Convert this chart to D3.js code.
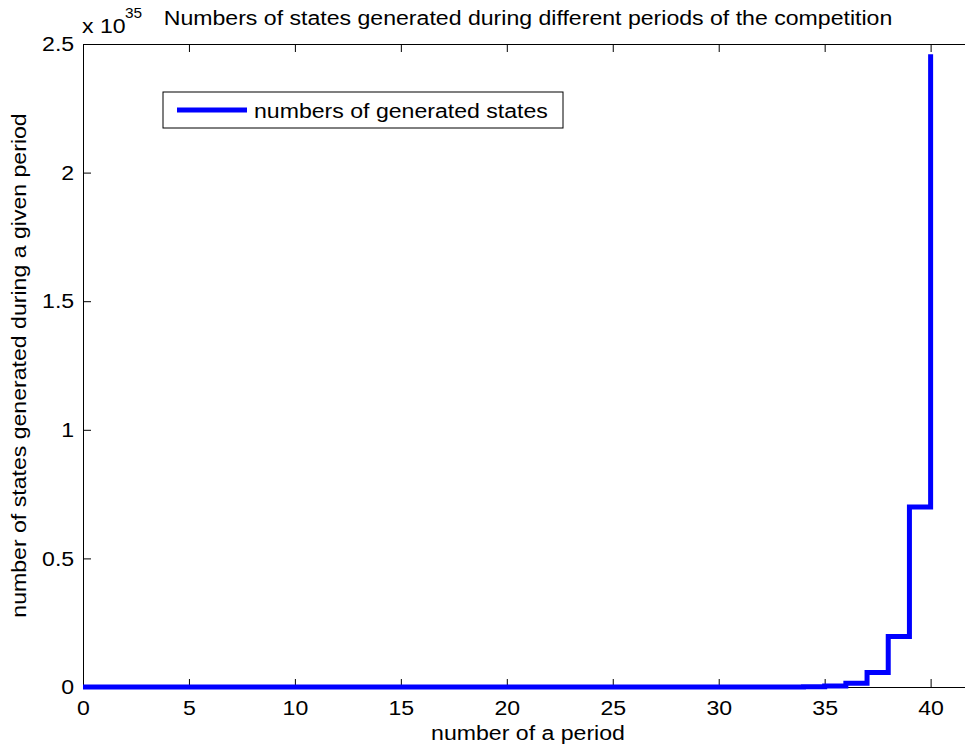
<!DOCTYPE html>
<html>
<head>
<meta charset="utf-8">
<script src="https://cdn.jsdelivr.net/npm/d3@7"></script>
<style>
  body { margin: 0; background: #fff; }
  text { font-family: "Liberation Sans", Arial, Helvetica, sans-serif; fill: #000; }
</style>
</head>
<body>
<div id="chart"></div>
<script>
// periods of the competition
const periods = [0, 1, 2, 3, 4, 5, 6, 7, 8, 9, 10, 11, 12, 13, 14, 15, 16, 17, 18, 19, 20,
                 21, 22, 23, 24, 25, 26, 27, 28, 29, 30, 31, 32, 33, 34, 35, 36, 37, 38, 39, 40];
// generated states per period, in units of 10^35
const states = [0, 0, 0, 0, 0, 0, 0, 0, 0, 0, 0, 0, 0, 0, 0, 0, 0, 0, 0, 0, 0,
                0, 0, 0, 0, 0, 0, 0, 0, 0, 0, 0.00003, 0.0001, 0.0003, 0.0012, 0.0043,
                0.015, 0.056, 0.196, 0.70, 2.46];
const xTicks = [0, 5, 10, 15, 20, 25, 30, 35, 40];
const yTicks = [0, 0.5, 1, 1.5, 2, 2.5];
const yTickLabels = ["0", "0.5", "1", "1.5", "2", "2.5"];

const titleText = "Numbers of states generated during different periods of the competition";
const xLabel = "number of a period";
const yLabel = "number of states generated during a given period";
const legendLabel = "numbers of generated states";

const W = 965, H = 751;
const margin = {top: 44, right: -8, bottom: 64, left: 83};
const width = W - margin.left - margin.right;
const height = H - margin.top - margin.bottom;
const fontSize = 21;
const stretch = "scale(1.1,1)";

const svg = d3.select("#chart").append("svg")
    .attr("width", W)
    .attr("height", H);

const g = svg.append("g")
    .attr("transform", "translate(" + margin.left + "," + margin.top + ")");

const x = d3.scaleLinear().domain([0, 42]).range([0, width]);
const y = d3.scaleLinear().domain([0, 2.5]).range([height, 0]);

// axes (ticks point inward, box style)
const xAxis = d3.axisBottom(x).tickValues(xTicks).tickSizeInner(-8).tickSizeOuter(0).tickPadding(13);
const xTop = d3.axisTop(x).tickValues(xTicks).tickSizeInner(-8).tickSizeOuter(0).tickFormat("");
const yAxis = d3.axisLeft(y).tickValues(yTicks).tickSizeInner(-8).tickSizeOuter(0).tickPadding(8)
    .tickFormat((d, i) => yTickLabels[i]);

function styleAxis(sel) {
    sel.selectAll("path, line").attr("stroke", "#000").attr("stroke-width", 1);
    sel.selectAll("text")
        .attr("font-size", fontSize)
        .attr("font-family", "Liberation Sans, Arial, Helvetica, sans-serif")
        .attr("fill", "#000")
        .attr("transform", stretch);
}

g.append("g").attr("class", "x-axis")
    .attr("transform", "translate(0," + height + ")")
    .call(xAxis).call(styleAxis);
g.append("g").attr("class", "x-top").call(xTop).call(styleAxis);
g.append("g").attr("class", "y-axis").call(yAxis).call(styleAxis);

// stairs line
const line = d3.line()
    .x((d, i) => x(periods[i]))
    .y(d => y(d))
    .curve(d3.curveStepAfter);

g.append("path")
    .datum(states)
    .attr("fill", "none")
    .attr("stroke", "#0000ff")
    .attr("stroke-width", 5)
    .attr("d", line);

// legend
const legend = g.append("g").attr("transform", "translate(80,48)");
legend.append("rect")
    .attr("width", 400).attr("height", 36)
    .attr("fill", "#fff").attr("stroke", "#000").attr("stroke-width", 1);
legend.append("line")
    .attr("x1", 14).attr("x2", 84).attr("y1", 18).attr("y2", 18)
    .attr("stroke", "#0000ff").attr("stroke-width", 5);
legend.append("text")
    .attr("transform", "translate(91,26) " + stretch)
    .attr("font-size", fontSize)
    .text(legendLabel);

// title and labels
svg.append("text")
    .attr("transform", "translate(" + (margin.left + x(21)) + ",25) " + stretch)
    .attr("text-anchor", "middle")
    .attr("font-size", fontSize)
    .text(titleText);

svg.append("text")
    .attr("transform", "translate(" + (margin.left + x(21)) + ",740) " + stretch)
    .attr("text-anchor", "middle")
    .attr("font-size", fontSize)
    .text(xLabel);

svg.append("text")
    .attr("transform", "translate(26," + (margin.top + height / 2) + ") rotate(-90) " + stretch)
    .attr("text-anchor", "middle")
    .attr("font-size", fontSize)
    .text(yLabel);

// exponent label
svg.append("text")
    .attr("transform", "translate(82,33) " + stretch)
    .attr("font-size", fontSize)
    .text("x 10");
svg.append("text")
    .attr("transform", "translate(125,18) " + stretch)
    .attr("font-size", 14)
    .text("35");
</script>
</body>
</html>
